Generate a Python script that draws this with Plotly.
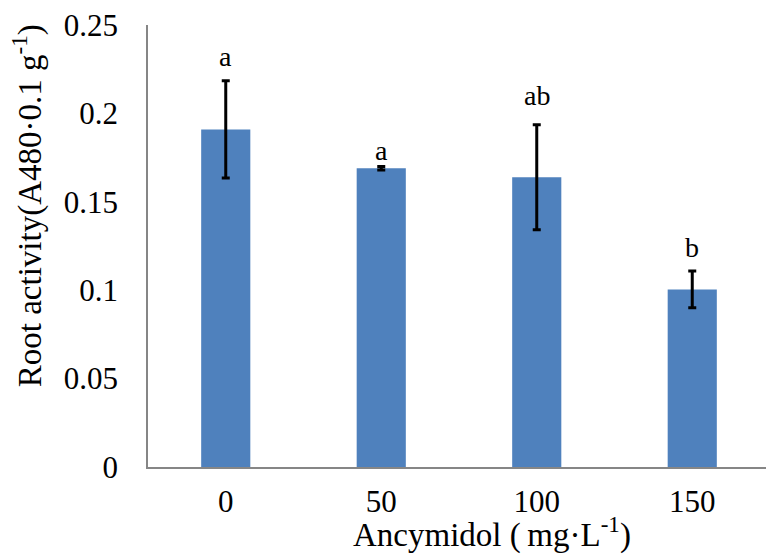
import plotly.graph_objects as go

categories = ["0", "50", "100", "150"]
values = [0.191, 0.169, 0.164, 0.1005]
errors = [0.0275, 0.001, 0.0297, 0.0104]
letters = ["a", "a", "ab", "b"]
letter_y = [0.232, 0.179, 0.210, 0.124]
y_ticks = [0, 0.05, 0.1, 0.15, 0.2, 0.25]
y_tick_text = ["0", "0.05", "0.1", "0.15", "0.2", "0.25"]
x_title = "Ancymidol (\u2009mg·L<sup>-1</sup>)"
y_title = "Root activity(A480·0.1 g<sup>-1</sup>)"

FONT = "Liberation Serif, Times New Roman, serif"

fig = go.Figure()
fig.add_trace(go.Bar(
    x=categories, y=values,
    marker=dict(color="#4F81BD", line=dict(width=0)),
    width=0.316,
    error_y=dict(type="data", array=errors, visible=True, color="black", thickness=3, width=4),
))
for i, (t, ly) in enumerate(zip(letters, letter_y)):
    fig.add_annotation(x=i, y=ly, text=t, showarrow=False,
                       font=dict(family=FONT, size=28, color="black"))

fig.add_annotation(xref="paper", yref="paper", x=0.553, y=-0.148, text=x_title,
                   showarrow=False, xanchor="center", yanchor="middle",
                   font=dict(family=FONT, size=33, color="black"))
fig.add_annotation(xref="paper", yref="paper", x=-0.1945, y=0.59, text=y_title,
                   showarrow=False, xanchor="center", yanchor="middle", textangle=-90,
                   font=dict(family=FONT, size=33, color="black"))

fig.update_layout(
    width=766, height=547,
    margin=dict(l=140, r=4, t=17, b=88),
    plot_bgcolor="white", paper_bgcolor="white",
    showlegend=False,
    font=dict(family=FONT, size=30, color="black"),
)
fig.update_xaxes(
    type="category", range=[-0.5, 3.5],
    showline=True, linecolor="#868686", linewidth=1.5,
    ticks="", showgrid=False, automargin=False,
    tickfont=dict(family=FONT, size=31), ticklabelstandoff=6,
)
fig.update_yaxes(
    range=[0, 0.2501], tickvals=y_ticks, ticktext=y_tick_text,
    showline=True, linecolor="#868686", linewidth=1.5,
    ticks="", showgrid=False, zeroline=False, automargin=False,
    tickfont=dict(family=FONT, size=31), ticklabelstandoff=22,
    ticklabeloverflow="allow",
)
fig.write_html("out.html")
